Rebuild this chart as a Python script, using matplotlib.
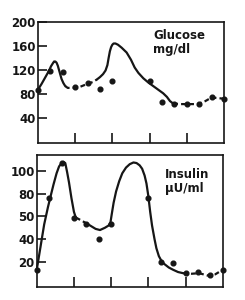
import matplotlib
matplotlib.use('Agg')
import matplotlib.pyplot as plt

# sample times (minutes) and measured values
glucose_t = [0, 20, 40, 60, 80, 100, 120, 180, 200, 220, 240, 260, 280, 300]
glucose = [87, 119, 116, 91, 99, 89, 102, 102, 67, 63, 63, 63, 75, 72]

insulin_t = [0, 20, 40, 60, 80, 100, 120, 180, 200, 220, 240, 260, 280, 300]
insulin = [13, 76, 107, 59, 53, 40, 53, 76, 20, 19, 10, 11, 8, 13]

# hand-drawn curves
glucose_curve_t = [0, 6, 12, 18, 21, 24, 26, 28, 30, 32, 35, 38, 41, 44, 48,
                   55, 66, 78, 89, 95, 100, 105, 109, 112, 114, 116, 118, 120,
                   122, 125, 129, 135, 143, 150, 156, 162, 170, 178, 186, 194,
                   202, 208, 213, 218, 230, 245, 258, 270, 280, 290, 300]
glucose_curve = [87, 97, 108, 119, 126, 131, 134, 134, 132, 127, 116, 105, 98, 93, 90,
                 90, 91, 96, 100, 104, 108, 113, 119, 128, 140, 151, 158, 162,
                 164, 164, 162, 157, 149, 137, 124, 115, 106, 99, 93, 87,
                 81, 75, 68, 64, 63, 63, 63, 68, 74, 73, 72]
glucose_dashed = [(45, 92), (218, 300)]

insulin_curve_t = [0, 6, 12, 18, 22, 27, 32, 36, 40, 43, 46, 49, 52, 56, 60, 63,
                   70, 83, 95, 102, 110, 116, 119, 121, 124, 128, 133, 138, 144,
                   150, 156, 161, 166, 170, 174, 177, 180, 183, 186, 190, 193,
                   197, 201, 206, 213, 220, 228, 236, 250, 262, 275, 288, 300]
insulin_curve = [13, 33, 53, 68, 77, 88, 98, 104, 107, 108, 107, 99, 90, 76, 64, 59,
                 57, 53, 49, 48, 50, 52, 55, 62, 72, 82, 91, 98, 103,
                 106, 107.5, 107, 105, 102, 96, 89, 78, 64, 52, 40, 32,
                 25, 21, 18, 15, 13, 11, 10, 9.5, 10, 8, 9, 13]
insulin_dashed = [(63, 85), (236, 300)]

glucose_ticks = [40, 80, 120, 160, 200]
insulin_ticks = [20, 40, 60, 80, 100]
insulin_ticklabels = ['20', '40', '50', '80', '100']
time_ticks = [60, 120, 180, 240]

INK = '#161616'
plt.rcParams['font.family'] = 'DejaVu Sans'
plt.rcParams['font.weight'] = 'bold'


def draw_curve(ax, t, y, dashed):
    # split the curve into solid and dashed runs
    runs = []
    cur = None
    for i in range(len(t) - 1):
        mid = (t[i] + t[i + 1]) / 2
        is_dash = any(a <= mid <= b for a, b in dashed)
        if cur is None or cur[0] != is_dash:
            cur = [is_dash, [i]]
            runs.append(cur)
        cur[1].append(i + 1)
    for is_dash, idx in runs:
        xs = [t[k] for k in idx]
        ys = [y[k] for k in idx]
        ax.plot(xs, ys, color=INK, lw=1.6,
                ls=(0, (2.2, 1.4)) if is_dash else '-',
                solid_capstyle='round', solid_joinstyle='round', clip_on=False)


def style_axes(ax):
    for s in ax.spines.values():
        s.set_linewidth(1.2)
        s.set_color(INK)
    ax.set_xlim(0, 300)
    ax.set_xticks(time_ticks)
    ax.set_xticklabels([])
    ax.tick_params(axis='x', direction='in', length=7, width=1.2, color=INK)
    ax.tick_params(axis='y', direction='in', length=6.5, width=1.2, color=INK,
                   pad=1.5, labelsize=8.5, labelcolor=INK)


fig = plt.figure(figsize=(2.45, 3.0), dpi=100)

ax1 = fig.add_axes([0.155, 0.523, 0.759, 0.404])
draw_curve(ax1, glucose_curve_t, glucose_curve, glucose_dashed)
ax1.plot(glucose_t, glucose, 'o', color=INK, ms=3.4, clip_on=False)
ax1.set_ylim(-2, 200)
ax1.set_yticks(glucose_ticks)
style_axes(ax1)
ax1.text(0.62, 0.94, 'Glucose\nmg/dl', transform=ax1.transAxes, ha='left', va='top',
         fontsize=8.5, fontweight='bold', color=INK, linespacing=1.1)

ax2 = fig.add_axes([0.150, 0.044, 0.759, 0.439])
draw_curve(ax2, insulin_curve_t, insulin_curve, insulin_dashed)
ax2.plot(insulin_t, insulin, 'o', color=INK, ms=3.4, clip_on=False)
ax2.set_ylim(-2, 114)
ax2.set_yticks(insulin_ticks)
ax2.set_yticklabels(insulin_ticklabels)
style_axes(ax2)
ax2.text(0.69, 0.90, 'Insulin\n\u00b5U/ml', transform=ax2.transAxes, ha='left', va='top',
         fontsize=8.5, fontweight='bold', color=INK, linespacing=1.1)

fig.savefig('out.png', dpi=100)
